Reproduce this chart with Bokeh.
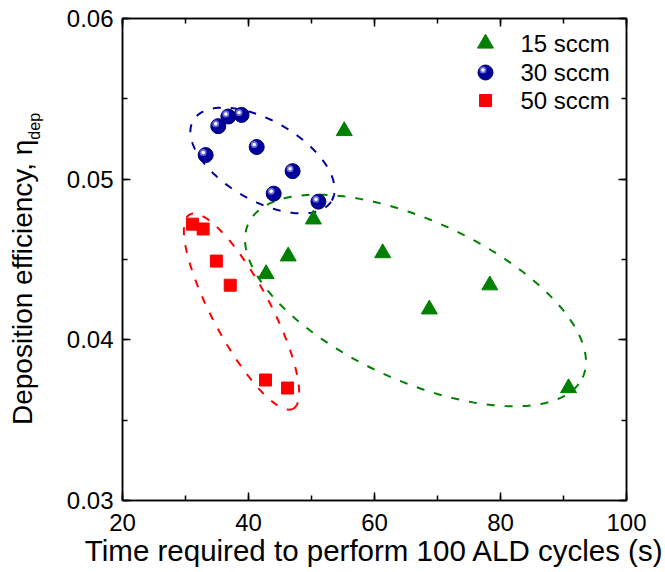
import numpy as np
from bokeh.plotting import figure
from bokeh.layouts import row
from bokeh.models import (Range1d, LinearAxis, SingleIntervalTicker, NumeralTickFormatter,
                          CustomJSTickFormatter, ColumnDataSource, Div)
from bokeh.core.properties import value
from bokeh.transform import dodge
from bokeh.embed import file_html
from bokeh.resources import INLINE

# ---------------- data ----------------
x15 = [42.8, 46.3, 50.3, 55.2, 61.3, 68.7, 78.3, 90.8]
y15 = [0.0441, 0.0452, 0.0475, 0.0530, 0.0454, 0.0419, 0.0434, 0.0370]
x30 = [33.2, 35.2, 36.8, 38.9, 41.3, 44.0, 47.0, 51.1]
y30 = [0.0515, 0.0533, 0.0539, 0.0540, 0.0520, 0.0491, 0.0505, 0.0486]
x50 = [31.1, 32.8, 34.9, 37.1, 42.7, 46.2]
y50 = [0.0472, 0.0469, 0.0449, 0.0434, 0.0375, 0.0370]
labels = ["15 sccm", "30 sccm", "50 sccm"]
x_title = "Time required to perform 100 ALD cycles (s)"
y_title = "Deposition efficiency, \u03b7"
y_title_sub = "dep"

X_MIN, X_MAX = 20, 100
Y_MIN, Y_MAX = 0.03, 0.06
FW, FH = 504, 482
PX_X = FW / (X_MAX - X_MIN)
PX_Y = FH / (Y_MAX - Y_MIN)

# grouping ellipses: center (data), semi-axes (px), angle (deg)
ell_cx = [42.22, 66.51, 38.89]
ell_cy = [0.05116, 0.04245, 0.04176]
ell_a = [80, 184, 110]
ell_b = [40, 80, 29]
ell_ang = [-30, -24.7, -62]
ell_col = ["#000099", "#008000", "#ff0000"]

FONT = "Liberation Sans"
DIV_W = 50
TOTAL_H = 570


def sx2x(px):   # frame-relative px from left -> data x
    return X_MIN + px / PX_X


def sy2y(px):   # frame-relative px from top -> data y
    return Y_MAX - px / PX_Y


p = figure(frame_width=FW, frame_height=FH, x_range=Range1d(X_MIN, X_MAX),
           y_range=Range1d(Y_MIN, Y_MAX), output_backend="svg", toolbar_location=None,
           min_border_left=122 - DIV_W, min_border_right=38, min_border_top=18,
           min_border_bottom=TOTAL_H - 18 - FH,
           x_axis_type=None, y_axis_type=None, margin=(0, 0, 0, 0))
p.grid.visible = False
p.outline_line_color = "black"
p.outline_line_width = 1.5
p.background_fill_color = "white"
p.border_fill_color = "white"


def style_axis(ax, show_labels, interval, fmt=None):
    ax.ticker = SingleIntervalTicker(interval=interval, num_minor_ticks=2)
    if fmt:
        ax.formatter = NumeralTickFormatter(format=fmt)
    ax.major_tick_in = 8
    ax.major_tick_out = 0
    ax.minor_tick_in = 5
    ax.minor_tick_out = 0
    ax.major_tick_line_width = 1.5
    ax.minor_tick_line_width = 1.5
    ax.axis_line_width = 1.5
    ax.major_tick_line_color = "black"
    ax.minor_tick_line_color = "black"
    ax.axis_line_color = "black"
    ax.major_label_text_font = FONT
    ax.major_label_text_color = "black"
    ax.major_label_text_font_size = "24px"
    if not show_labels:
        ax.formatter = CustomJSTickFormatter(code="return ''")
        ax.major_label_standoff = 0


xb = LinearAxis()
style_axis(xb, True, 20)
xb.major_label_standoff = 13
xb.axis_label = x_title
xb.axis_label_text_font = FONT
xb.axis_label_text_font_size = "29.5px"
xb.axis_label_text_font_style = "normal"
xb.axis_label_text_color = "black"
xb.axis_label_standoff = 0
p.add_layout(xb, "below")

yl = LinearAxis()
style_axis(yl, True, 0.01, "0.00")
yl.major_label_standoff = 9
p.add_layout(yl, "left")

xt = LinearAxis()
style_axis(xt, False, 20)
p.add_layout(xt, "above")
yr = LinearAxis()
style_axis(yr, False, 0.01)
p.add_layout(yr, "right")

# ellipses
t = np.linspace(0, 2 * np.pi, 300)
for cx, cy, a, b, ang, col in zip(ell_cx, ell_cy, ell_a, ell_b, ell_ang, ell_col):
    th = np.radians(ang)
    u = a * np.cos(t)
    v = b * np.sin(t)
    dx = u * np.cos(th) - v * np.sin(th)
    dy = u * np.sin(th) + v * np.cos(th)
    p.line(cx + dx / PX_X, cy + dy / PX_Y, line_color=col, line_width=2, line_dash="8 10")

# markers
s15 = ColumnDataSource(dict(x=x15, y=y15))
s30 = ColumnDataSource(dict(x=x30, y=y30))
s50 = ColumnDataSource(dict(x=x50, y=y50))

# legend key positions (frame px) converted to data
leg_rows = [25, 54, 82]
leg_kx = sx2x(363)
leg_tx = sx2x(398)
lk15 = ColumnDataSource(dict(x=[leg_kx], y=[sy2y(leg_rows[0])]))
lk30 = ColumnDataSource(dict(x=[leg_kx], y=[sy2y(leg_rows[1])]))
lk50 = ColumnDataSource(dict(x=[leg_kx], y=[sy2y(leg_rows[2])]))

hx = dodge("x", -2.5 / PX_X, range=p.x_range)
hy = dodge("y", 2.5 / PX_Y, range=p.y_range)

for src in (s15, lk15):
    p.scatter("x", "y", source=src, marker="triangle", size=16,
              fill_color="#008000", line_color="#008000")
for src in (s30, lk30):
    p.scatter("x", "y", source=src, marker="circle", size=15,
              fill_color="#00009a", line_color="#00006e", line_width=1)
    p.scatter(x=hx, y=hy, source=src, marker="circle", size=7,
              fill_color="#7a7ae6", line_color=None, fill_alpha=0.85)
    p.scatter(x=hx, y=hy, source=src, marker="circle", size=3.5,
              fill_color="white", line_color=None)
for src in (s50, lk50):
    p.scatter("x", "y", source=src, marker="square", size=12,
              fill_color="#ff0000", line_color="#ff0000")

p.text(x=[leg_tx] * 3, y=[sy2y(r) for r in leg_rows], text=labels,
       text_font=value(FONT), text_font_size="24px", text_color="black",
       text_align="left", text_baseline="middle")

# rotated y-axis title with real subscript, as HTML next to the figure
div_html = (
    f'<div style="position:relative;width:{DIV_W}px;height:{TOTAL_H}px;">'
    '<span style="position:absolute;left:9px;top:425px;transform:rotate(-90deg);'
    "transform-origin:0 0;white-space:nowrap;font-family:'Liberation Sans';"
    'font-size:28px;line-height:1;color:black;">'
    f'{y_title}<span style="font-size:16px;vertical-align:-8px;">{y_title_sub}</span>'
    '</span></div>'
)
div = Div(text=div_html, width=DIV_W, height=TOTAL_H, margin=(0, 0, 0, 0))

layout = row(div, p, spacing=0)
open("out.html", "w").write(file_html(layout, INLINE))
